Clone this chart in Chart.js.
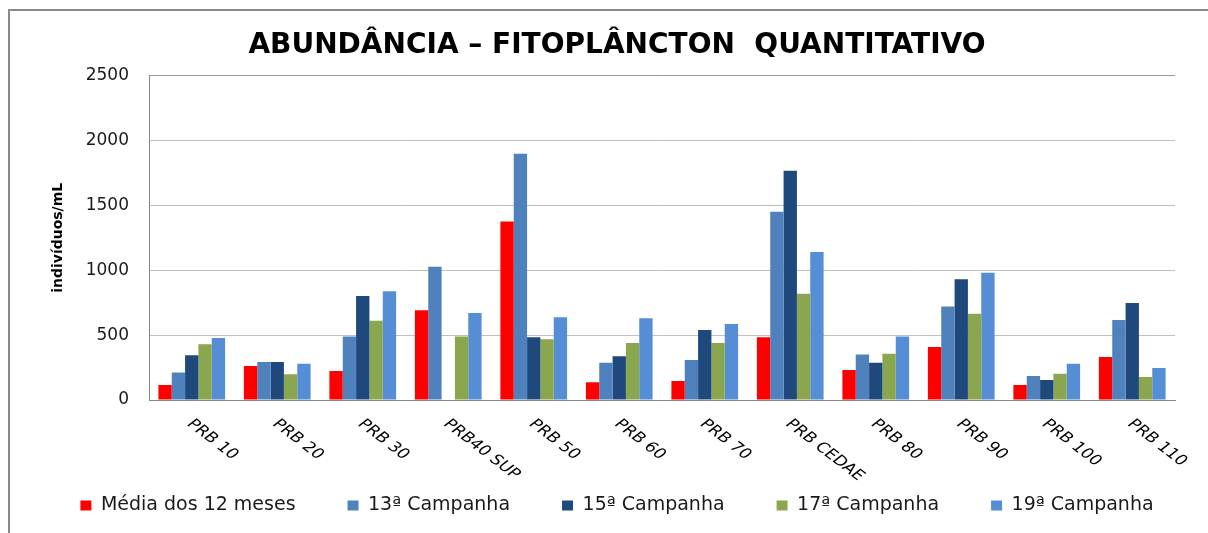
<!DOCTYPE html>
<html>
<head>
<meta charset="utf-8">
<title>Abundância – Fitoplâncton Quantitativo</title>
<script src="https://cdn.jsdelivr.net/npm/chart.js@4/dist/chart.umd.min.js"></script>
<style>
  html, body { margin: 0; padding: 0; background: #fff; overflow: hidden; }
  #wrap { width: 1208px; height: 533px; }
</style>
</head>
<body>
<div id="wrap"><canvas id="fitoChart" width="1208" height="533"></canvas></div>
<script>
const stations = [
  "PRB 10", "PRB 20", "PRB 30", "PRB40 SUP", "PRB 50", "PRB 60",
  "PRB 70", "PRB CEDAE", "PRB 80", "PRB 90", "PRB 100", "PRB 110"
];

const media12Meses = [116, 262, 224, 692, 1376, 136, 147, 484, 231, 409, 116, 332];
const campanha13 = [211, 293, 489, 1026, 1898, 288, 309, 1451, 350, 720, 185, 617];
const campanha15 = [345, 293, 802, null, 484, 337, 540, 1767, 288, 931, 154, 748];
const campanha17 = [430, 198, 610, 489, 468, 440, 440, 818, 357, 664, 203, 177];
const campanha19 = [478, 280, 839, 671, 638, 630, 586, 1140, 489, 980, 280, 247];

const yTicks = [0, 500, 1000, 1500, 2000, 2500];

const FONT = "'DejaVu Sans', sans-serif";

// white page + grey frame on the left and top edges
const framePlugin = {
  id: "frame",
  beforeDraw(chart) {
    const ctx = chart.ctx;
    ctx.save();
    ctx.fillStyle = "#ffffff";
    ctx.fillRect(0, 0, chart.width, chart.height);
    ctx.strokeStyle = "#8a8a8a";
    ctx.lineWidth = 2;
    ctx.beginPath();
    ctx.moveTo(9, chart.height + 2);
    ctx.lineTo(9, 10);
    ctx.lineTo(chart.width + 2, 10);
    ctx.stroke();
    ctx.restore();
  }
};

// slanted station names, running down to the right from each tick
const slantLabels = {
  id: "slantLabels",
  afterDraw(chart) {
    const ctx = chart.ctx;
    const xScale = chart.scales.x;
    ctx.save();
    ctx.fillStyle = "#000";
    ctx.font = "14px " + FONT;
    ctx.textAlign = "left";
    ctx.textBaseline = "top";
    stations.forEach((name, i) => {
      const x = xScale.getPixelForValue(i);
      ctx.save();
      ctx.translate(x + 4, xScale.top + 17);
      ctx.scale(1.3, 1);
      ctx.rotate(Math.PI / 4);
      ctx.fillText(name, 0, 0);
      ctx.restore();
    });
    ctx.restore();
  }
};

const ctx = document.getElementById("fitoChart").getContext("2d");
new Chart(ctx, {
  type: "bar",
  data: {
    labels: stations,
    datasets: [
      { label: "Média dos 12 meses", data: media12Meses, backgroundColor: "#ff0000" },
      { label: "13ª Campanha", data: campanha13, backgroundColor: "#4f81bd" },
      { label: "15ª Campanha", data: campanha15, backgroundColor: "#1f497d" },
      { label: "17ª Campanha", data: campanha17, backgroundColor: "#8aa64e" },
      { label: "19ª Campanha", data: campanha19, backgroundColor: "#558ed5" }
    ]
  },
  options: {
    responsive: false,
    animation: false,
    layout: { padding: { left: 26, right: 0, top: 0, bottom: 8 } },
    datasets: {
      bar: { categoryPercentage: 0.78, barPercentage: 1.0 }
    },
    plugins: {
      title: {
        display: true,
        text: "ABUNDÂNCIA – FITOPLÂNCTON  QUANTITATIVO",
        color: "#000",
        font: { family: FONT, size: 28, weight: "bold" },
        padding: { top: 29, bottom: 13 }
      },
      legend: {
        position: "bottom",
        labels: {
          color: "#1a1a1a",
          font: { family: FONT, size: 19 },
          boxWidth: 11,
          boxHeight: 10,
          padding: 52
        }
      },
      tooltip: { enabled: false }
    },
    scales: {
      x: {
        grid: { display: false },
        border: { display: true, color: "#868686", width: 1 },
        ticks: { display: false },
        afterFit(scale) { scale.height = 44; }
      },
      y: {
        min: 0,
        max: 2500,
        afterBuildTicks(scale) { scale.ticks = yTicks.map(v => ({ value: v })); },
        grid: {
          color: c => (c.tick && c.tick.value === 2500 ? "#9a9a9a" : "#c0c0c0"),
          lineWidth: 1,
          drawTicks: false
        },
        border: { display: true, color: "#868686", width: 1 },
        ticks: {
          color: "#1a1a1a",
          font: { family: FONT, size: 17 },
          padding: 20,
          callback: v => String(v)
        },
        title: {
          display: true,
          text: "indivíduos/mL",
          color: "#000",
          font: { family: FONT, size: 14, weight: "bold" },
          padding: { top: 24, bottom: 0 }
        },
        afterFit(scale) { scale.width = 123; }
      },
      // empty right-hand axis, only keeps a margin beside the plot
      yRight: {
        type: "linear",
        position: "right",
        display: true,
        grid: { display: false },
        border: { display: false },
        ticks: { display: false },
        afterFit(scale) { scale.width = 33; }
      }
    }
  },
  plugins: [framePlugin, slantLabels]
});
</script>
</body>
</html>
